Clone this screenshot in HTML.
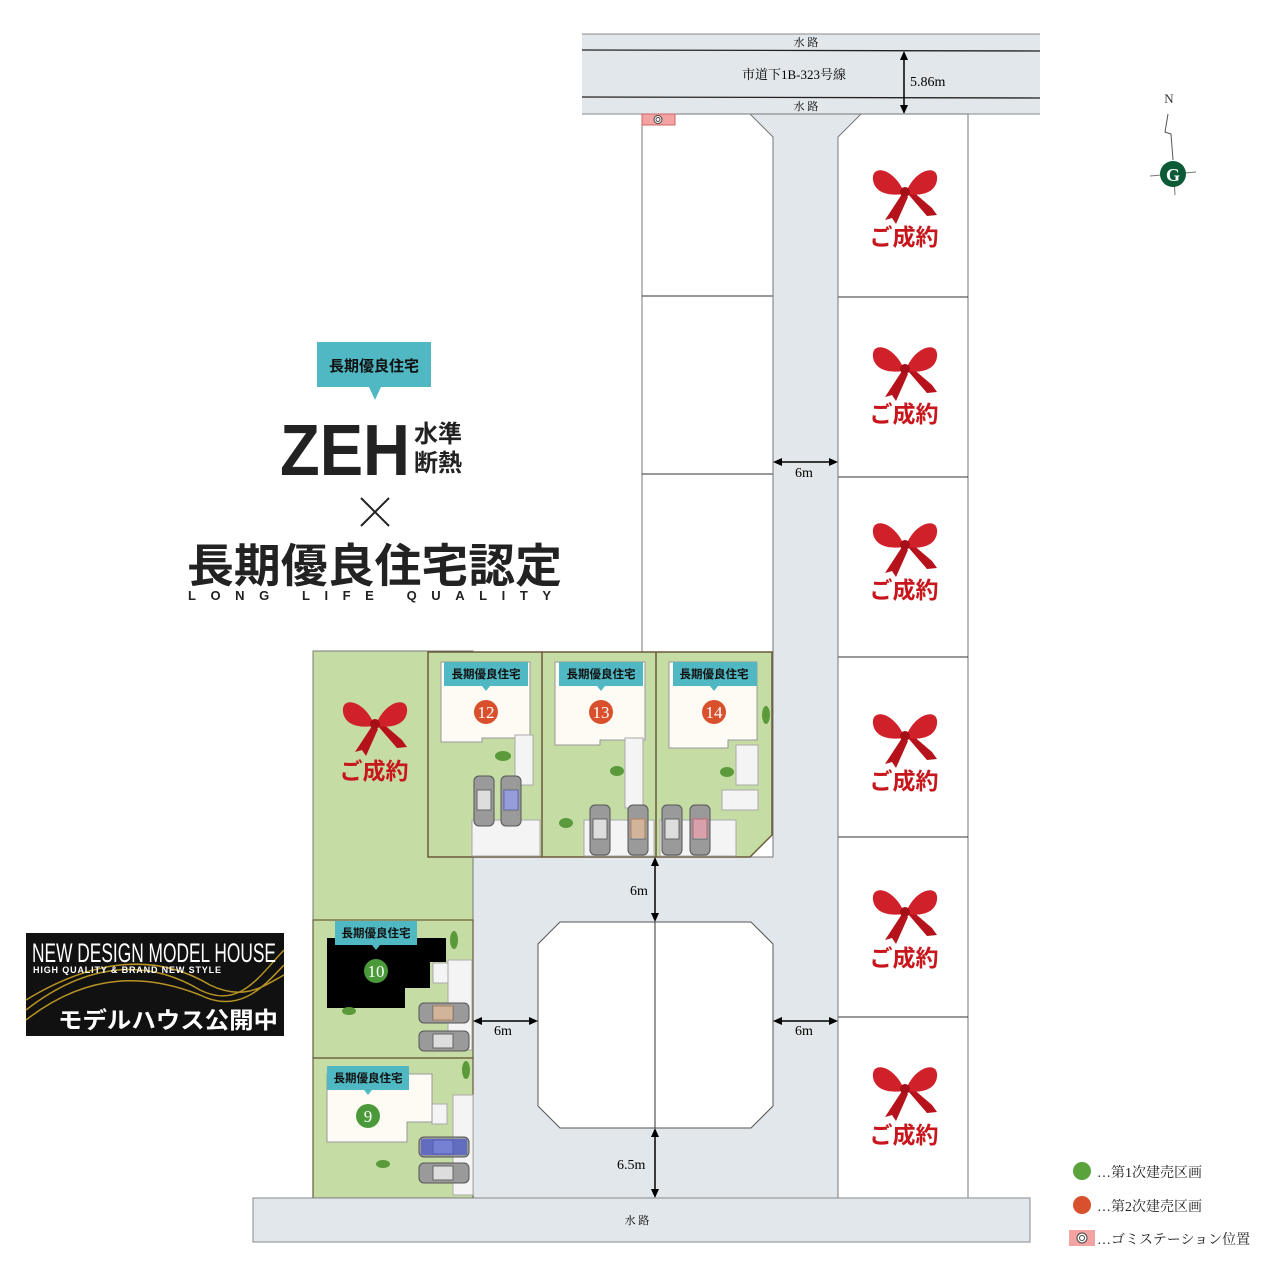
<!DOCTYPE html>
<html><head><meta charset="utf-8"><style>
html,body{margin:0;padding:0;background:#fff;}
svg{display:block;font-family:"Liberation Serif","Noto Serif CJK SC",serif;}
.g{font-family:"Liberation Sans","Noto Sans CJK JP",sans-serif;}
</style></head><body>
<svg width="1280" height="1280" viewBox="0 0 1280 1280" xmlns="http://www.w3.org/2000/svg">
<defs>
<g id="bow">
<path d="M-3,2 L-20,28 L-13,26 L-9,32 L3,5 Z" fill="#b5121b"/>
<path d="M3,2 L22,24 L32,23 L27,16 L6,-2 Z" fill="#b5121b"/>
<path d="M-2,-2 C-12,-24 -34,-28 -32,-12 C-30,2 -14,4 -2,2 Z" fill="#d0202a"/>
<path d="M2,-2 C12,-24 34,-28 32,-12 C30,2 14,4 2,2 Z" fill="#d0202a"/>
<circle cx="0" cy="0" r="5" fill="#a50f17"/>
</g>
<g id="car"><rect x="0" y="0" width="20" height="50" rx="5" fill="#9a9a9a" stroke="#555"/><rect x="3" y="14" width="14" height="20" fill="#ddd" stroke="#666"/></g>
<g id="carh"><rect x="0" y="0" width="50" height="20" rx="5" fill="#9a9a9a" stroke="#555"/><rect x="14" y="3" width="20" height="14" fill="#ddd" stroke="#666"/></g>
</defs>
<!-- top road -->
<rect x="582" y="34" width="458" height="80" fill="#e2e7eb"/>
<line x1="582" y1="34" x2="1040" y2="34" stroke="#888"/>
<line x1="582" y1="50" x2="1040" y2="51" stroke="#222" stroke-width="1.3"/>
<line x1="582" y1="97" x2="1040" y2="98" stroke="#222" stroke-width="1.3"/>
<line x1="582" y1="114" x2="1040" y2="114" stroke="#888"/>
<text x="806" y="46" font-size="11" text-anchor="middle">水 路</text>
<text x="794" y="79" font-size="13" text-anchor="middle">市道下1B-323号線</text>
<text x="806" y="110" font-size="11" text-anchor="middle">水 路</text>
<line x1="904" y1="55" x2="904" y2="110" stroke="#000" stroke-width="1.5"/>
<path d="M904,51 l-4,9 h8z M904,114 l-4,-9 h8z"/>
<text x="910" y="86" font-size="14">5.86m</text>
<!-- lots -->
<rect x="642" y="114" width="131" height="538" fill="#fff" stroke="#777"/>
<line x1="642" y1="296" x2="773" y2="296" stroke="#333"/>
<line x1="642" y1="474" x2="773" y2="474" stroke="#333"/>
<rect x="838" y="114" width="130" height="1084" fill="#fff" stroke="#777"/>
<g stroke="#333"><line x1="838" y1="297" x2="968" y2="297"/><line x1="838" y1="477" x2="968" y2="477"/><line x1="838" y1="657" x2="968" y2="657"/><line x1="838" y1="837" x2="968" y2="837"/><line x1="838" y1="1017" x2="968" y2="1017"/></g>
<!-- road -->
<path d="M750,114 L861,114 L838,137 L838,1198 L473,1198 L473,857 L773,857 L773,137 Z" fill="#e2e7eb" stroke="#777"/>
<rect x="642" y="114" width="33" height="11" fill="#f4a3a3" stroke="#c66"/>
<circle cx="658" cy="119.5" r="4" fill="#fff" stroke="#444"/><circle cx="658" cy="119.5" r="2" fill="none" stroke="#444"/>
<!-- green area -->
<rect x="313" y="651" width="160" height="547" fill="#c5dca5" stroke="#777"/>
<path d="M428,652 L772,652 L772,835 L750,857 L428,857 Z" fill="#c5dca5" stroke="#6b5a3a" stroke-width="1.5"/>
<line x1="542" y1="652" x2="542" y2="857" stroke="#6b5a3a" stroke-width="1.5"/>
<line x1="656" y1="652" x2="656" y2="857" stroke="#6b5a3a" stroke-width="1.5"/>
<rect x="313" y="920" width="160" height="138" fill="none" stroke="#6b5a3a" stroke-width="1.2"/>
<rect x="313" y="1058" width="160" height="140" fill="none" stroke="#6b5a3a" stroke-width="1.2"/>
<!-- houses 12-14 -->
<path d="M441,662 L530,662 L530,738 L482,738 L482,742 L441,742Z" fill="#fdfbf3" stroke="#999"/>
<path d="M555,662 L645,662 L645,740 L600,740 L600,745 L555,745Z" fill="#fdfbf3" stroke="#999"/>
<path d="M669,662 L757,662 L757,740 L728,740 L728,748 L669,748Z" fill="#fdfbf3" stroke="#999"/>
<g fill="#f4f4f4" stroke="#aaa">
<rect x="472" y="820" width="68" height="36"/><rect x="515" y="735" width="18" height="50"/>
<rect x="584" y="820" width="70" height="36"/><rect x="625" y="738" width="18" height="70"/>
<rect x="660" y="820" width="76" height="36"/><rect x="736" y="745" width="22" height="40"/><rect x="722" y="790" width="36" height="20"/>
<rect x="448" y="960" width="24" height="90"/><rect x="433" y="963" width="15" height="20"/>
<rect x="453" y="1095" width="20" height="100"/><rect x="432" y="1104" width="15" height="20"/>
</g>
<use href="#car" x="474" y="776"/><use href="#car" x="501" y="776" /><rect x="503" y="790" width="16" height="20" fill="#6675d8" opacity=".6"/>
<use href="#car" x="590" y="805"/><use href="#car" x="628" y="805"/><rect x="630" y="818" width="16" height="20" fill="#c99a6e" opacity=".6"/>
<use href="#car" x="662" y="805"/><use href="#car" x="690" y="805"/><rect x="692" y="818" width="16" height="20" fill="#d4788a" opacity=".6"/>
<use href="#carh" x="419" y="1003"/><rect x="433" y="1005" width="20" height="16" fill="#c99a6e" opacity=".6"/>
<use href="#carh" x="419" y="1031"/>
<use href="#carh" x="419" y="1137"/><rect x="421" y="1139" width="46" height="16" fill="#4a5ad0" opacity=".7"/>
<use href="#carh" x="419" y="1163"/>
<!-- house 10 & 9 -->
<path d="M327,938 L446,938 L446,962 L430,962 L430,988 L405,988 L405,1008 L327,1008Z" fill="#000"/>
<path d="M327,1074 L432,1074 L432,1122 L407,1122 L407,1142 L327,1142Z" fill="#fdfbf3" stroke="#999"/>
<!-- badges -->
<g class="g" font-size="11.5" font-weight="bold" fill="#111">
<rect x="444" y="662" width="84" height="24" fill="#4fb8c3"/><path d="M482,686 h8 l-4,5z" fill="#4fb8c3"/><text x="486" y="678" text-anchor="middle">長期優良住宅</text>
<rect x="559" y="662" width="84" height="24" fill="#4fb8c3"/><path d="M597,686 h8 l-4,5z" fill="#4fb8c3"/><text x="601" y="678" text-anchor="middle">長期優良住宅</text>
<rect x="673" y="662" width="84" height="24" fill="#4fb8c3"/><path d="M710,686 h8 l-4,5z" fill="#4fb8c3"/><text x="714" y="678" text-anchor="middle">長期優良住宅</text>
<rect x="335" y="921" width="82" height="24" fill="#4fb8c3"/><path d="M372,945 h8 l-4,5z" fill="#4fb8c3"/><text x="376" y="937" text-anchor="middle">長期優良住宅</text>
<rect x="327" y="1066" width="82" height="24" fill="#4fb8c3"/><path d="M364,1090 h8 l-4,5z" fill="#4fb8c3"/><text x="368" y="1082" text-anchor="middle">長期優良住宅</text>
</g>
<g font-size="17" fill="#fff" text-anchor="middle">
<circle cx="486" cy="712" r="12" fill="#d9512c"/><text x="486" y="718">12</text>
<circle cx="601" cy="712" r="12" fill="#d9512c"/><text x="601" y="718">13</text>
<circle cx="714" cy="712" r="12" fill="#d9512c"/><text x="714" y="718">14</text>
<circle cx="376" cy="971" r="12" fill="#4a9a3a"/><text x="376" y="977">10</text>
<circle cx="368" cy="1116" r="12" fill="#4a9a3a"/><text x="368" y="1122">9</text>
</g>
<!-- bushes -->
<g fill="#5a9a3a"><ellipse cx="503" cy="756" rx="8" ry="5"/><ellipse cx="566" cy="823" rx="7" ry="5"/><ellipse cx="617" cy="771" rx="7" ry="5"/><ellipse cx="727" cy="772" rx="7" ry="5"/><ellipse cx="766" cy="715" rx="4" ry="9"/><ellipse cx="349" cy="1011" rx="7" ry="4"/><ellipse cx="383" cy="1164" rx="7" ry="4"/><ellipse cx="454" cy="940" rx="4" ry="9"/><ellipse cx="466" cy="1070" rx="4" ry="9"/></g>
<!-- central block -->
<path d="M560,922 L751,922 L773,944 L773,1106 L751,1128 L560,1128 L538,1106 L538,944Z" fill="#fff" stroke="#555"/>
<line x1="655" y1="922" x2="655" y2="1128" stroke="#333"/>
<!-- dimension arrows -->
<g stroke="#000" stroke-width="1.5">
<line x1="655" y1="862" x2="655" y2="917"/><line x1="478" y1="1021" x2="533" y2="1021"/>
<line x1="778" y1="1021" x2="833" y2="1021"/><line x1="778" y1="462" x2="833" y2="462"/>
<line x1="655" y1="1133" x2="655" y2="1193"/>
</g>
<g>
<path d="M655,857 l-4,9 h8z M655,922 l-4,-9 h8z M473,1021 l9,-4 v8z M538,1021 l-9,-4 v8z M773,1021 l9,-4 v8z M838,1021 l-9,-4 v8z M773,462 l9,-4 v8z M838,462 l-9,-4 v8z M655,1128 l-4,9 h8z M655,1198 l-4,-9 h8z"/>
</g>
<g font-size="14"><text x="630" y="895">6m</text><text x="494" y="1035">6m</text><text x="795" y="1035">6m</text><text x="795" y="477">6m</text><text x="617" y="1169">6.5m</text></g>
<!-- bottom waterway -->
<rect x="253" y="1198" width="777" height="44" fill="#e2e7eb" stroke="#888"/>
<text x="637" y="1224" font-size="11" text-anchor="middle">水 路</text>
<!-- ribbons -->
<g><use href="#bow" x="905" y="192"/><use href="#bow" x="905" y="369"/><use href="#bow" x="905" y="545"/><use href="#bow" x="905" y="736"/><use href="#bow" x="905" y="912"/><use href="#bow" x="905" y="1089"/><use href="#bow" x="375" y="724"/></g>
<g class="g" font-size="23" font-weight="bold" fill="#c8161d" text-anchor="middle">
<text x="904" y="245">ご成約</text><text x="904" y="422">ご成約</text><text x="904" y="598">ご成約</text><text x="904" y="789">ご成約</text><text x="904" y="966">ご成約</text><text x="904" y="1143">ご成約</text><text x="374" y="779">ご成約</text>
</g>
<!-- left promo -->
<g class="g">
<rect x="317" y="342" width="114" height="45" fill="#4fb8c3"/><path d="M369,387 h12 l-6,13z" fill="#4fb8c3"/>
<text x="374" y="371" font-size="15" font-weight="bold" text-anchor="middle" fill="#111">長期優良住宅</text>
<text x="280" y="475" font-size="72" font-weight="bold" fill="#222" textLength="130" lengthAdjust="spacingAndGlyphs">ZEH</text>
<text x="414" y="442" font-size="24" font-weight="bold" fill="#222">水準</text>
<text x="414" y="471" font-size="24" font-weight="bold" fill="#222">断熱</text>
<path d="M361,498 L389,526 M389,498 L361,526" stroke="#222" stroke-width="2"/>
<text x="187" y="582" font-size="46" font-weight="bold" fill="#222" textLength="375" lengthAdjust="spacingAndGlyphs">長期優良住宅認定</text>
<text x="188" y="600" font-size="13" font-weight="bold" fill="#222" textLength="373" letter-spacing="10">LONG LIFE QUALITY</text>
</g>
<!-- banner -->
<rect x="26" y="933" width="258" height="103" fill="#111"/>
<g fill="none" stroke="#c9a227" stroke-width="1.5" opacity=".9">
<path d="M26,1010 C90,960 150,960 200,990 C240,1010 260,975 284,950"/>
<path d="M26,1020 C90,970 150,975 200,995 C240,1015 265,985 284,965"/>
<path d="M26,1000 C100,955 160,955 210,985 C245,1002 265,985 284,975"/>
</g>
<g class="g" fill="#fff">
<text x="32" y="962" font-size="27" textLength="244" lengthAdjust="spacingAndGlyphs">NEW DESIGN MODEL HOUSE</text>
<text x="33" y="973" font-size="9" font-weight="bold" letter-spacing="2" textLength="190">HIGH QUALITY &amp; BRAND NEW STYLE</text>
<text x="58" y="1028" font-size="23" font-weight="bold" textLength="220" lengthAdjust="spacingAndGlyphs">モデルハウス公開中</text>
</g>
<!-- north -->
<text x="1169" y="103" font-size="13" text-anchor="middle" fill="#333">N</text>
<path d="M1168,114 L1165,132 L1171,134 L1173,160" fill="none" stroke="#555"/>
<line x1="1150" y1="176" x2="1196" y2="172" stroke="#777"/><line x1="1174" y1="178" x2="1175" y2="195" stroke="#777"/>
<circle cx="1173" cy="174" r="13" fill="#0d5a36"/>
<text x="1173" y="181" font-size="18" font-weight="bold" fill="#fff" text-anchor="middle">G</text>
<!-- legend -->
<g font-size="14" fill="#222">
<circle cx="1082" cy="1171" r="9" fill="#5aa23c"/><text x="1097" y="1177">…第1次建売区画</text>
<circle cx="1082" cy="1205" r="9" fill="#d9512c"/><text x="1097" y="1211">…第2次建売区画</text>
<rect x="1069" y="1230" width="26" height="16" fill="#f4a3a3"/><circle cx="1082" cy="1238" r="5" fill="#fff" stroke="#444"/><circle cx="1082" cy="1238" r="2.5" fill="none" stroke="#444"/>
<text x="1097" y="1244">…ゴミステーション位置</text>
</g>
</svg>
</body></html>
